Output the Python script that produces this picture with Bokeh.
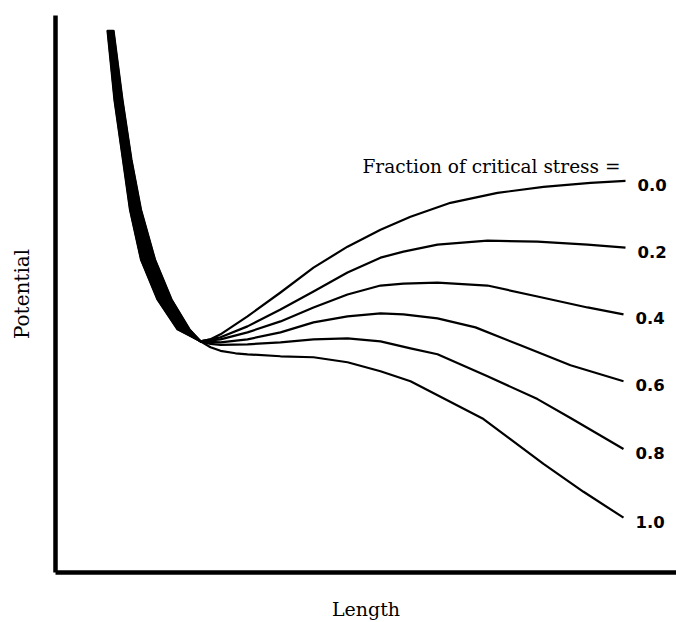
from bokeh.plotting import figure
from bokeh.models import Range1d, Label, FixedTicker, ColumnDataSource
from bokeh.core.properties import value
from bokeh.embed import file_html
from bokeh.resources import INLINE

# Fraction of critical stress for each curve
stress_labels = ["0.0", "0.2", "0.4", "0.6", "0.8", "1.0"]

# Length / Potential values (arbitrary units)
len_00 = [57, 64, 72.5, 79.5, 90.5, 107, 127, 150, 160, 170, 197, 230, 263, 297, 330, 360, 400, 447, 493, 540, 575]
pot_00 = [570, 500, 440, 390, 340, 300, 270, 258, 260, 265, 283, 307, 332, 353, 370, 383, 397, 407, 413, 417, 419]

len_02 = [58, 66, 74, 81.5, 93, 110, 129.5, 150, 170, 197, 230, 263, 297, 330, 353, 387, 437, 487, 537, 575]
pot_02 = [570, 500, 440, 390, 340, 300, 270, 258, 262, 273, 290, 308, 327, 342, 348, 355, 359, 358, 355, 352]

len_04 = [59.5, 67.5, 76, 84, 96, 112.5, 132, 150, 170, 197, 230, 263, 297, 330, 353, 387, 437, 487, 537, 573]
pot_04 = [570, 500, 440, 390, 340, 300, 270, 258, 260, 267, 278, 292, 305, 314, 316, 317, 314, 303, 292, 285]

len_06 = [60.5, 69, 78, 86, 99, 115.5, 135, 150, 170, 197, 230, 263, 297, 330, 353, 387, 425, 470, 520, 573]
pot_06 = [570, 500, 440, 390, 340, 300, 270, 258, 257, 260, 267, 277, 283, 286, 285, 281, 272, 254, 234, 218]

len_08 = [62, 70.5, 79.5, 88.5, 101.5, 118, 137.5, 150, 160, 170, 197, 230, 263, 297, 330, 360, 387, 437, 487, 520, 573]
pot_08 = [570, 500, 440, 390, 340, 300, 270, 258, 255.5, 254.5, 255, 257, 260, 261, 258, 251, 245, 223, 200, 181, 150]

len_10 = [63, 72, 81, 90.5, 104.5, 121, 139, 150, 160, 170, 185, 197, 230, 263, 297, 330, 360, 433, 493, 533, 573]
pot_10 = [570, 500, 440, 390, 340, 300, 270, 258, 252, 248.5, 246, 245, 243, 242, 237, 228, 218, 180, 135, 107, 81]

curves_len = [len_00, len_02, len_04, len_06, len_08, len_10]
curves_pot = [pot_00, pot_02, pot_04, pot_06, pot_08, pot_10]

# number of points on the steep (repulsive) branch where the curves overlap into one band
N_BAND = 8

legend_title = "Fraction of critical stress ="
x_title = "Length"
y_title = "Potential"

SERIF = "DejaVu Serif"

p = figure(width=676, height=622, output_backend="svg", toolbar_location=None,
           x_range=Range1d(5, 626), y_range=Range1d(26, 585),
           min_border_left=55, min_border_right=0, min_border_top=15, min_border_bottom=48)
p.outline_line_color = None
p.xgrid.visible = False
p.ygrid.visible = False
p.background_fill_color = "white"
p.border_fill_color = "white"

for ax in (p.xaxis[0], p.yaxis[0]):
    ax.ticker = FixedTicker(ticks=[])
    ax.major_label_text_font_size = "0px"
    ax.major_label_standoff = 0
    ax.major_tick_line_color = None
    ax.minor_tick_line_color = None
    ax.major_tick_out = 0
    ax.major_tick_in = 0
    ax.minor_tick_out = 0
    ax.minor_tick_in = 0
    ax.axis_line_width = 4.5
    ax.axis_line_color = "black"
    ax.axis_label_text_font = SERIF
    ax.axis_label_text_font_style = "normal"
    ax.axis_label_text_font_size = "20px"
    ax.axis_label_text_color = "black"

p.xaxis[0].axis_label = x_title
p.xaxis[0].axis_label_text_font_size = "19px"
p.xaxis[0].axis_label_standoff = 25
p.yaxis[0].axis_label = y_title
p.yaxis[0].axis_label_standoff = 22

# solid band where the steep branches of all curves overlap
band_x = len_00[:N_BAND] + len_10[:N_BAND][::-1]
band_y = pot_00[:N_BAND] + pot_10[:N_BAND][::-1]
p.patch(band_x, band_y, fill_color="black", line_color="black", line_width=1.5, line_join="round")

for L, P in zip(curves_len, curves_pot):
    p.line(L, P, line_color="black", line_width=2.2, line_join="round")

src = ColumnDataSource(dict(
    x=[L[-1] for L in curves_len],
    y=[P[-1] for P in curves_pot],
    t=stress_labels,
))
p.text(x="x", y="y", text="t", source=src, x_offset=12, y_offset=4,
       text_font=value("DejaVu Sans"), text_font_style="bold", text_font_size="16.5px",
       text_baseline="middle", text_align="left", text_color="black")

p.add_layout(Label(x=312, y=433, text=legend_title, text_font=SERIF, text_font_size="18.5px",
                   text_baseline="alphabetic", text_align="left", text_color="black"))

open("out.html", "w").write(file_html(p, INLINE))
